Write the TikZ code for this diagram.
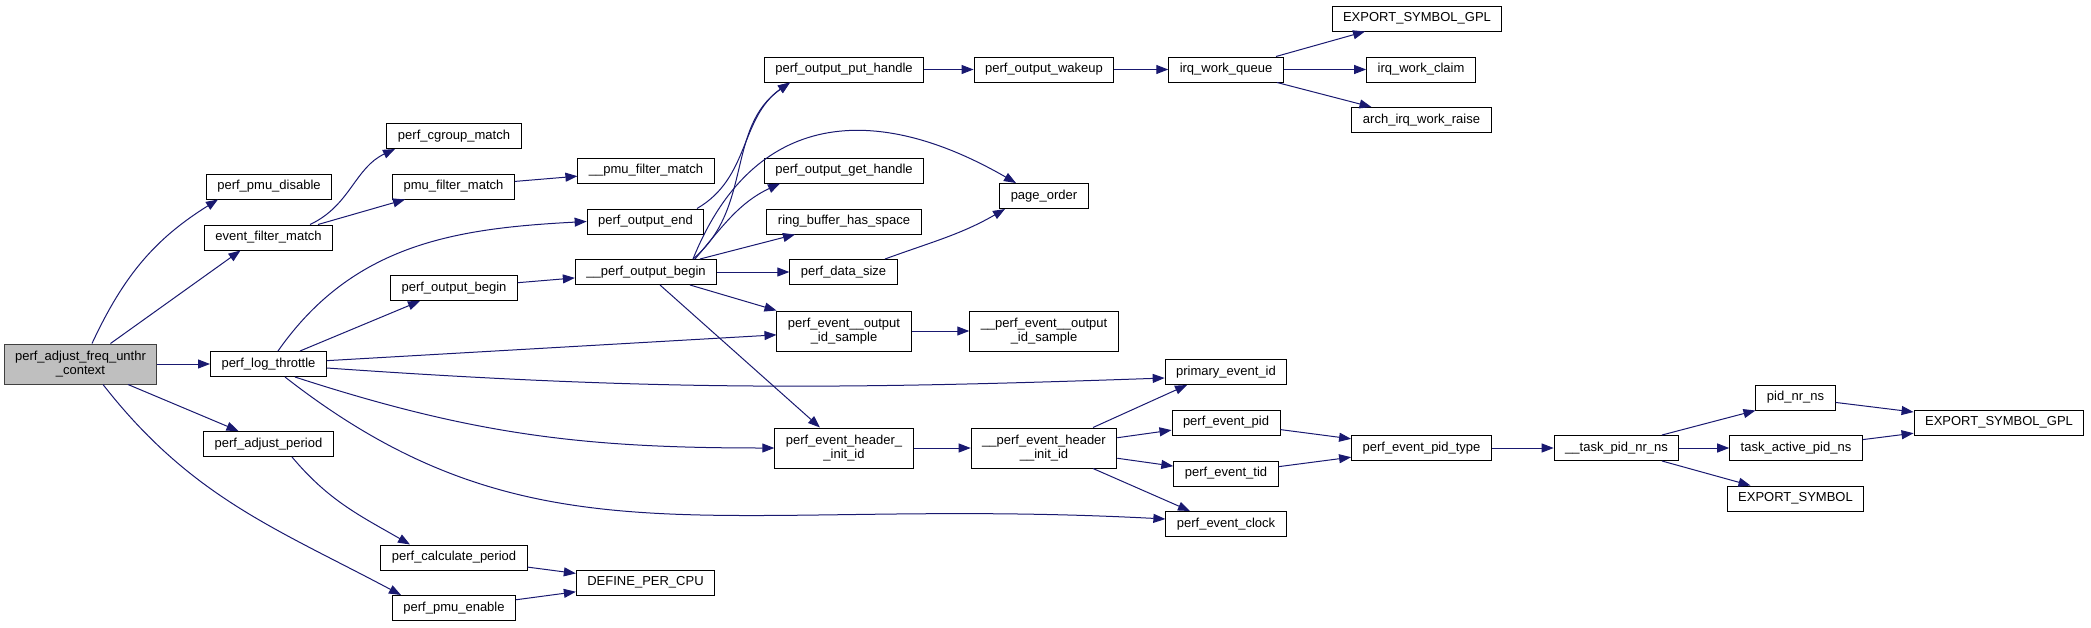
\documentclass[tikz,border=0pt]{standalone}
\usepackage{fontspec}
\setmainfont{Liberation Sans}
\usepackage{tikz}
\usepackage{xcolor}
\usetikzlibrary{
    arrows.meta,
    calc
  }
\definecolor{edgecolor}{RGB}{25,25,112}
\definecolor{rootfill}{RGB}{191,191,191}
\definecolor{rootborder}{RGB}{64,64,64}
\tikzset{
  fn/.style={draw=black, fill=white, line width=1pt, inner xsep=11pt, inner ysep=0pt,
    minimum height=25pt, align=center, font=\fontsize{13}{14}\selectfont},
  fntwo/.style={fn, minimum height=40pt},
  rootfn/.style={fntwo, fill=rootfill, draw=rootborder},
  edge/.style={draw=edgecolor, line width=1pt, -{Triangle[length=12pt,width=9pt]}}
}

\begin{document}
\begin{tikzpicture}[x=1pt, y=1pt]

\useasboundingbox (0,0) rectangle (2091,-627);

% functions, column by column
\path (80.5,-364) node[rootfn] (root) {perf\_adjust\_freq\_unthr\\\_context};

\path (269,-186.5) node[fn] (pmu_disable) {perf\_pmu\_disable};
\path (268.5,-237.5) node[fn] (filter_match) {event\_filter\_match};
\path (268.5,-364) node[fn] (log_throttle) {perf\_log\_throttle};
\path (268.5,-444) node[fn] (adjust_period) {perf\_adjust\_period};

\path (454,-136) node[fn] (cgroup_match) {perf\_cgroup\_match};
\path (453.5,-186.5) node[fn] (pmu_filter) {pmu\_filter\_match};
\path (454,-288) node[fn] (output_begin) {perf\_output\_begin};
\path (454,-557.5) node[fn] (calc_period) {perf\_calculate\_period};
\path (454,-608) node[fn] (pmu_enable) {perf\_pmu\_enable};

\path (646,-170.5) node[fn] (pmu_filter_int) {\_\_pmu\_filter\_match};
\path (645.5,-221.5) node[fn] (output_end) {perf\_output\_end};
\path (646,-272) node[fn] (output_begin_int) {\_\_perf\_output\_begin};
\path (645.5,-582.5) node[fn] (define_cpu) {DEFINE\_PER\_CPU};

\path (844,-69.5) node[fn] (put_handle) {perf\_output\_put\_handle};
\path (844,-170.5) node[fn] (get_handle) {perf\_output\_get\_handle};
\path (844,-221.5) node[fn] (has_space) {ring\_buffer\_has\_space};
\path (843.5,-272) node[fn] (data_size) {perf\_data\_size};
\path (844,-331) node[fntwo] (id_sample) {perf\_event\_\_output\\\_id\_sample};
\path (844,-448) node[fntwo] (header_init) {perf\_event\_header\_\\\_init\_id};

\path (1044,-69.5) node[fn] (wakeup) {perf\_output\_wakeup};
\path (1044,-196) node[fn] (page_order) {page\_order};
\path (1044,-331) node[fntwo] (id_sample_int) {\_\_perf\_event\_\_output\\\_id\_sample};
\path (1044,-448) node[fntwo] (header_init_int) {\_\_perf\_event\_header\\\_\_init\_id};

\path (1226,-69.5) node[fn] (irq_queue) {irq\_work\_queue};
\path (1226,-372) node[fn] (primary_id) {primary\_event\_id};
\path (1226,-422.5) node[fn] (event_pid) {perf\_event\_pid};
\path (1226,-473.5) node[fn] (event_tid) {perf\_event\_tid};
\path (1226,-524) node[fn] (event_clock) {perf\_event\_clock};

\path (1417,-18.5) node[fn] (gpl_top) {EXPORT\_SYMBOL\_GPL};
\path (1421,-69.5) node[fn] (irq_claim) {irq\_work\_claim};
\path (1421.5,-120) node[fn] (irq_raise) {arch\_irq\_work\_raise};
\path (1421.5,-448) node[fn] (pid_type) {perf\_event\_pid\_type};

\path (1616.5,-448) node[fn] (task_pid) {\_\_task\_pid\_nr\_ns};
\path (1795.5,-397.5) node[fn] (pid_nr) {pid\_nr\_ns};
\path (1796,-448) node[fn] (active_ns) {task\_active\_pid\_ns};
\path (1795.5,-498.5) node[fn] (export_sym) {EXPORT\_SYMBOL};
\path (1999,-422.5) node[fn] (gpl_right) {EXPORT\_SYMBOL\_GPL};

% calls
\draw[edge] ([xshift=11.5pt]root.north) to[out=65,in=212] ([xshift=-51pt]pmu_disable.south);
\draw[edge] ([xshift=30pt]root.north) -- ([xshift=-28pt]filter_match.south);
\draw[edge] (root) -- (log_throttle);
\draw[edge] ([xshift=47.5pt]root.south) -- ([xshift=-30pt]adjust_period.north);
\draw[edge] ([xshift=22.5pt]root.south) to[out=-52,in=152] ([xshift=-53pt]pmu_enable.north);

\draw[edge] ([xshift=41.5pt]filter_match.north) to[out=25,in=205] ([xshift=-59pt]cgroup_match.south);
\draw[edge] ([xshift=49.5pt]filter_match.north) -- ([xshift=-48.5pt]pmu_filter.south);
\draw[edge] (pmu_filter) -- (pmu_filter_int);

\draw[edge] ([xshift=9.5pt]log_throttle.north) to[out=55,in=183] (output_end.west);
\draw[edge] ([xshift=31.5pt]log_throttle.north) -- ([xshift=-34pt]output_begin.south);
\draw[edge] (log_throttle) -- (id_sample);
\draw[edge] ([yshift=-4pt]log_throttle.east) to[out=-4,in=182] ([yshift=-6pt]primary_id.west);
\draw[edge] ([xshift=26.5pt]log_throttle.south) to[out=-18,in=180] (header_init.west);
\draw[edge] ([xshift=16.5pt]log_throttle.south)
  to[out=-38,in=177,out distance=320pt,in distance=450pt] ([yshift=5pt]event_clock.west);

\draw[edge] ([xshift=23.5pt]adjust_period.south) to[out=-50,in=150] ([xshift=-44pt]calc_period.north);
\draw[edge] (calc_period) -- (define_cpu);
\draw[edge] (pmu_enable) -- (define_cpu);
\draw[edge] (output_begin) -- (output_begin_int);

\draw[edge] ([xshift=51.5pt]output_end.north) to[out=30,in=215] ([xshift=-54pt]put_handle.south);
\draw[edge] ([xshift=47pt]output_begin_int.north) to[out=40,in=215] ([xshift=-54pt]put_handle.south);
\draw[edge] ([xshift=47pt]output_begin_int.north) to[out=68,in=150,looseness=1.25] ([xshift=-28pt]page_order.north);
\draw[edge] ([xshift=49pt]output_begin_int.north) to[out=50,in=205] ([xshift=-64pt]get_handle.south);
\draw[edge] ([xshift=54pt]output_begin_int.north) -- ([xshift=-49pt]has_space.south);
\draw[edge] (output_begin_int) -- (data_size);
\draw[edge] ([xshift=44pt]output_begin_int.south) -- (id_sample.north west);
\draw[edge] ([xshift=14pt]output_begin_int.south) -- ([xshift=-24pt]header_init.north);
\draw[edge] ([xshift=41.5pt]data_size.north) to[out=20,in=210] ([xshift=-39pt]page_order.south);

\draw[edge] (put_handle) -- (wakeup);
\draw[edge] (wakeup) -- (irq_queue);
\draw[edge] ([xshift=50pt]irq_queue.north) -- ([xshift=-52pt]gpl_top.south);
\draw[edge] (irq_queue) -- (irq_claim);
\draw[edge] ([xshift=51pt]irq_queue.south) -- ([xshift=-50pt]irq_raise.north);

\draw[edge] (id_sample) -- (id_sample_int);
\draw[edge] (header_init) -- (header_init_int);
\draw[edge] ([xshift=49pt]header_init_int.north) -- ([xshift=-39pt]primary_id.south);
\draw[edge] (header_init_int) -- (event_pid);
\draw[edge] (header_init_int) -- (event_tid);
\draw[edge] ([xshift=49pt]header_init_int.south) -- ([xshift=-36pt]event_clock.north);

\draw[edge] (event_pid) -- (pid_type);
\draw[edge] (event_tid) -- (pid_type);
\draw[edge] (pid_type) -- (task_pid);
\draw[edge] ([xshift=45.5pt]task_pid.north) -- (pid_nr.south west);
\draw[edge] (task_pid) -- (active_ns);
\draw[edge] ([xshift=45.5pt]task_pid.south) -- ([xshift=-45pt]export_sym.north);
\draw[edge] (pid_nr) -- (gpl_right);
\draw[edge] (active_ns) -- (gpl_right);

\end{tikzpicture}
\end{document}
